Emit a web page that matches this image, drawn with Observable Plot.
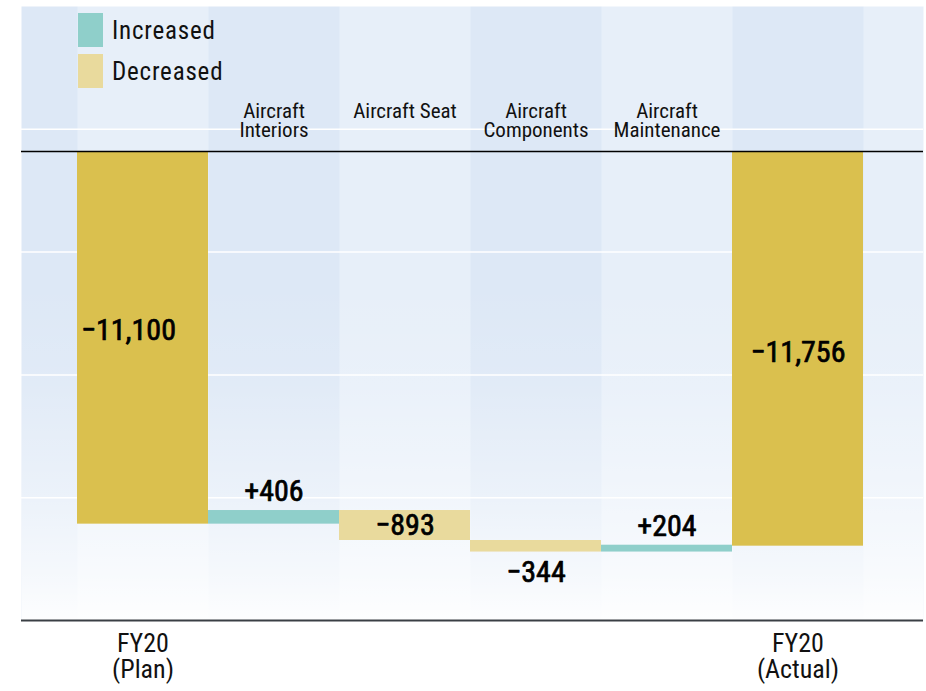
<!DOCTYPE html>
<html>
<head>
<meta charset="utf-8">
<script src="https://cdn.jsdelivr.net/npm/d3@7"></script>
<script src="https://cdn.jsdelivr.net/npm/@observablehq/plot@0.6"></script>
<style>
  html, body { margin: 0; padding: 0; background: #ffffff; }
  #wrap { position: relative; width: 926px; height: 691px; overflow: hidden; }
  #legend { position: absolute; left: 78px; top: 13px; }
  .lg-swatches { margin: 0 !important; }
  .lg-swatch { padding-bottom: 7px !important; }
  .lg-swatch > svg { margin-right: 9px !important; }
</style>
</head>
<body>
<div id="wrap"><div id="chart"></div><div id="legend"></div></div>
<script>
// ---- data ----
const categories = ["FY20\n(Plan)", "Aircraft\nInteriors", "Aircraft Seat", "Aircraft\nComponents", "Aircraft\nMaintenance", "FY20\n(Actual)"];
const values = [-11100, 406, -893, -344, 204, -11756];
const isTotal = [true, false, false, false, false, true];
const legendLabels = ["Increased", "Decreased"];

// ---- style ----
const FONT = '"Liberation Sans Narrow", "Roboto Condensed", "DejaVu Sans Condensed", "Arial Narrow", sans-serif';
const GOLD = "#dac04e", TEAL = "#8fcfca", KHAKI = "#e9da9d";
const DARK_BAND = "#dde8f6", LIGHT_BAND = "#e7eff9";
const yMin = -13970, yMax = 4320;

// waterfall rows
let run = 0;
const rows = categories.map((c, i) => {
  const v = values[i];
  let start, end;
  if (isTotal[i]) { start = 0; end = v; }
  else { start = run; end = run + v; }
  run = end;
  const kind = isTotal[i] ? "Total" : (v >= 0 ? legendLabels[0] : legendLabels[1]);
  return {category: c, value: v, start, end, kind, total: isTotal[i],
          top: Math.max(start, end), bottom: Math.min(start, end), mid: (start + end) / 2};
});
const fmt = d3.format("+,");
const grid = d3.range(1, 5).map(i => yMin + (yMax - yMin) * i / 5);
const valueStyle = {fontSize: 30, fontWeight: "normal", fill: "#000", stroke: "#000",
                    strokeWidth: 0.7, paintOrder: "normal"};

const chart = Plot.plot({
  width: 926,
  height: 691,
  marginTop: 6,
  marginBottom: 71,
  marginLeft: 21,
  marginRight: 3,
  style: {fontFamily: FONT, background: "#ffffff", color: "#000"},
  x: {type: "band", domain: categories, range: [77, 863], padding: 0, axis: null},
  y: {domain: [yMin, yMax], axis: null},
  color: {domain: [legendLabels[0], legendLabels[1], "Total"], range: [TEAL, KHAKI, GOLD]},
  marks: [
    Plot.frame({fill: "url(#bandPattern)", stroke: null}),
    Plot.frame({fill: "url(#fadeGrad)", stroke: null}),
    Plot.ruleY(grid, {stroke: "#ffffff", strokeWidth: 1.5}),
    Plot.barY(rows, {x: "category", y1: "start", y2: "end", fill: "kind"}),
    Plot.ruleY([0], {stroke: "#000000", strokeWidth: 1.5}),
    Plot.ruleY([yMin], {stroke: "#3a3f44", strokeWidth: 2}),
    // category labels on top for the changes
    Plot.text(rows.filter(d => !d.total), {
      x: "category", text: "category", frameAnchor: "top", dy: 98,
      lineAnchor: "top", lineHeight: 0.9, fontSize: 21, fill: "#111",
      letterSpacing: "0.4px"
    }),
    // totals axis at the bottom
    Plot.axisX(categories.filter((c, i) => isTotal[i]), {
      anchor: "bottom", tickSize: 0, tickPadding: 13, fontSize: 26,
      lineHeight: 1.0, fill: "#111", tickFormat: d => d, label: null,
      letterSpacing: "0.3px"
    }),
    // value labels
    Plot.text(rows.filter((d, i) => d.total && i === 0), {
      x: "category", y: "mid", text: d => fmt(d.value), textAnchor: "start",
      dx: -62, dy: -7, ...valueStyle
    }),
    Plot.text(rows.filter((d, i) => d.total && i > 0), {
      x: "category", y: "mid", text: d => fmt(d.value), dy: 4, ...valueStyle
    }),
    Plot.text(rows.filter(d => !d.total && d.value >= 0), {
      x: "category", y: "top", text: d => fmt(d.value), dy: -19, ...valueStyle
    }),
    Plot.text(rows.filter(d => !d.total && d.value < 0 && Math.abs(d.value) > 500), {
      x: "category", y: "mid", text: d => fmt(d.value), ...valueStyle
    }),
    Plot.text(rows.filter(d => !d.total && d.value < 0 && Math.abs(d.value) <= 500), {
      x: "category", y: "bottom", text: d => fmt(d.value), dy: 20.5, ...valueStyle
    })
  ]
});

// background definitions computed from the x scale
const xs = chart.scale("x");
const bw = xs.bandwidth;
const darkStart = xs.apply(categories[1]);
const ns = "http://www.w3.org/2000/svg";
const defs = document.createElementNS(ns, "defs");
defs.innerHTML = `
  <pattern id="bandPattern" patternUnits="userSpaceOnUse" x="${darkStart}" y="0" width="${2 * bw}" height="691">
    <rect x="0" y="0" width="${bw}" height="691" fill="${DARK_BAND}"></rect>
    <rect x="${bw}" y="0" width="${bw}" height="691" fill="${LIGHT_BAND}"></rect>
  </pattern>
  <linearGradient id="fadeGrad" x1="0" y1="0" x2="0" y2="1">
    <stop offset="0" stop-color="#ffffff" stop-opacity="0"></stop>
    <stop offset="0.45" stop-color="#ffffff" stop-opacity="0"></stop>
    <stop offset="0.61" stop-color="#ffffff" stop-opacity="0.12"></stop>
    <stop offset="0.8" stop-color="#ffffff" stop-opacity="0.44"></stop>
    <stop offset="0.935" stop-color="#ffffff" stop-opacity="0.74"></stop>
    <stop offset="1" stop-color="#ffffff" stop-opacity="0.95"></stop>
  </linearGradient>`;
chart.insertBefore(defs, chart.firstChild);
document.getElementById("chart").appendChild(chart);

const legend = Plot.legend({
  color: {type: "ordinal", domain: legendLabels, range: [TEAL, KHAKI]},
  legend: "swatches",
  columns: 1,
  swatchWidth: 25,
  swatchHeight: 34,
  className: "lg",
  style: {fontSize: "25px", fontFamily: FONT, color: "#111", letterSpacing: "0.8px"}
});
document.getElementById("legend").appendChild(legend);
</script>
</body>
</html>
